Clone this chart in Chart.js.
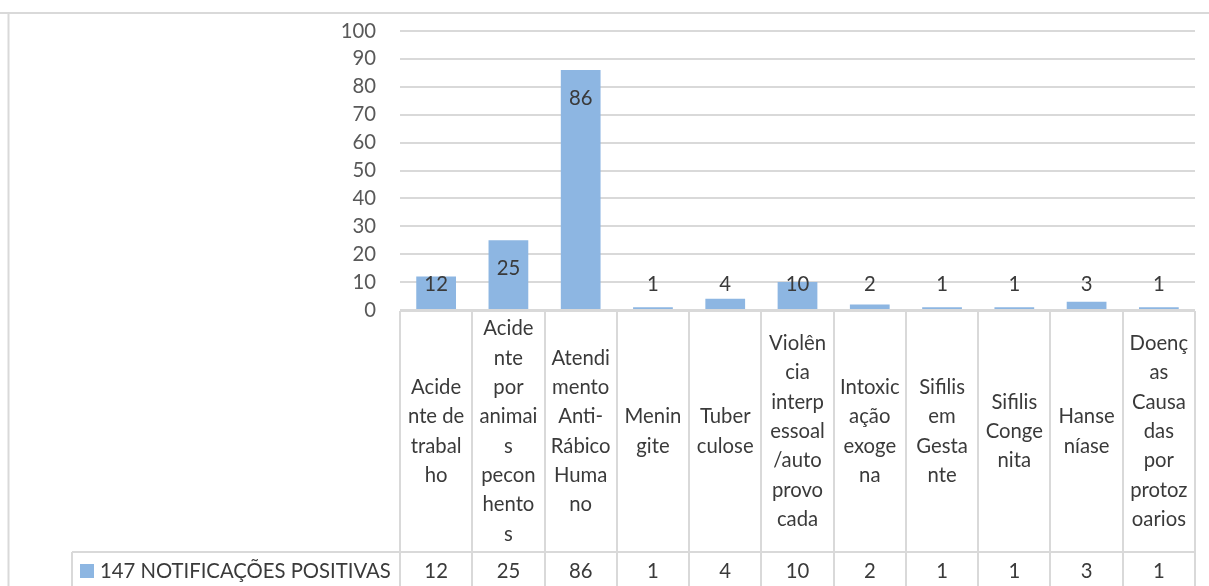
<!DOCTYPE html>
<html>
<head>
<meta charset="utf-8">
<script src="https://cdn.jsdelivr.net/npm/chart.js@4"></script>
<style>
  html, body { margin: 0; padding: 0; background: #fff; }
  #wrap { width: 1209px; height: 586px; }
</style>
</head>
<body>
<div id="wrap"><canvas id="chart" width="1209" height="586"></canvas></div>
<script>
// data
const categories = [
  'Acidente de trabalho', 'Acidente por animais peconhentos', 'Atendimento Anti-Rábico Humano',
  'Meningite', 'Tuberculose', 'Violência interpessoal/autoprovocada', 'Intoxicação exogena',
  'Sifilis em Gestante', 'Sifilis Congenita', 'Hanseníase', 'Doenças Causadas por protozoarios'
];
// header lines as wrapped in the data table
const categoryLines = [
  ['Acide', 'nte de', 'trabal', 'ho'],
  ['Acide', 'nte', 'por', 'animai', 's', 'pecon', 'hento', 's'],
  ['Atendi', 'mento', 'Anti-', 'Rábico', 'Huma', 'no'],
  ['Menin', 'gite'],
  ['Tuber', 'culose'],
  ['Violên', 'cia', 'interp', 'essoal', '/auto', 'provo', 'cada'],
  ['Intoxic', 'ação', 'exoge', 'na'],
  ['Sifilis', 'em', 'Gesta', 'nte'],
  ['Sifilis', 'Conge', 'nita'],
  ['Hanse', 'níase'],
  ['Doenç', 'as', 'Causa', 'das', 'por', 'protoz', 'oarios']
];
const seriesName = '147 NOTIFICAÇÕES POSITIVAS';
const values = [12, 25, 86, 1, 4, 10, 2, 1, 1, 3, 1];
const yMin = 0, yMax = 100, yStep = 10;

const FONT = 'Lato, "Open Sans", sans-serif';
const FONT_SIZE = 20.3;
const barColor = 'rgb(141, 182, 226)';
const lineColor = '#D9D9D9';
const textColor = '#3a3a3a';

const chartFrame = {
  id: 'chartFrame',
  beforeDraw(chart) {
    const ctx = chart.ctx;
    ctx.save();
    ctx.strokeStyle = lineColor;
    ctx.lineWidth = 2;
    ctx.beginPath();
    ctx.moveTo(0, 13); ctx.lineTo(chart.width, 13);
    ctx.moveTo(8.5, 13); ctx.lineTo(8.5, chart.height);
    ctx.stroke();
    ctx.restore();
  }
};

const barLabels = {
  id: 'barLabels',
  afterDatasetsDraw(chart) {
    const ctx = chart.ctx;
    const meta = chart.getDatasetMeta(0);
    ctx.save();
    ctx.font = FONT_SIZE + 'px ' + FONT;
    ctx.fillStyle = textColor;
    ctx.textAlign = 'center';
    ctx.textBaseline = 'middle';
    meta.data.forEach((bar, i) => {
      const y = Math.min(bar.y + 28, bar.base - 25);
      ctx.fillText(String(values[i]), bar.x, y);
    });
    ctx.restore();
  }
};

const dataTable = {
  id: 'dataTable',
  afterDraw(chart) {
    const ctx = chart.ctx;
    const x = chart.scales.x;
    const n = categories.length;
    const w = (x.right - x.left) / n;
    const top = chart.chartArea.bottom + 1;
    const mid = 552;
    const bottom = chart.height;
    const legendLeft = 72;
    ctx.save();
    ctx.strokeStyle = lineColor;
    ctx.lineWidth = 2;
    ctx.beginPath();
    ctx.moveTo(x.left, top); ctx.lineTo(x.right, top);
    ctx.moveTo(legendLeft, mid); ctx.lineTo(x.right, mid);
    ctx.moveTo(legendLeft, mid); ctx.lineTo(legendLeft, bottom);
    for (let i = 0; i <= n; i++) {
      const px = Math.round(x.left + i * w);
      ctx.moveTo(px, top); ctx.lineTo(px, bottom);
    }
    ctx.stroke();

    ctx.font = FONT_SIZE + 'px ' + FONT;
    ctx.fillStyle = textColor;
    ctx.textAlign = 'center';
    ctx.textBaseline = 'middle';
    const lh = 29.3;
    const cy = (top + mid) / 2;
    categoryLines.forEach((lines, i) => {
      const cx = x.getPixelForValue(i);
      const y0 = cy - (lines.length - 1) * lh / 2;
      lines.forEach((t, k) => ctx.fillText(t, cx, y0 + k * lh));
      ctx.fillText(String(values[i]), cx, 571);
    });

    // legend key in the table
    ctx.fillStyle = barColor;
    ctx.fillRect(80, 564, 14, 14);
    ctx.fillStyle = textColor;
    ctx.textAlign = 'left';
    ctx.fillText(seriesName, 100, 571);
    ctx.restore();
  }
};

new Chart(document.getElementById('chart'), {
  type: 'bar',
  data: {
    labels: categories,
    datasets: [{
      label: seriesName,
      data: values,
      backgroundColor: barColor,
      borderWidth: 0,
      barPercentage: 0.55,
      categoryPercentage: 1
    }]
  },
  options: {
    responsive: false,
    animation: false,
    layout: { padding: { left: 0, right: 14, top: 31, bottom: 276 } },
    plugins: {
      legend: { display: false },
      tooltip: { enabled: false }
    },
    scales: {
      x: {
        display: false
      },
      y: {
        min: yMin,
        max: yMax,
        ticks: {
          stepSize: yStep,
          padding: 24,
          color: '#595959',
          font: { family: FONT, size: FONT_SIZE }
        },
        grid: { color: lineColor, lineWidth: 2, drawTicks: false },
        border: { display: false },
        afterFit(scale) {
          scale.width = 400;
          scale.paddingTop = 0;
          scale.paddingBottom = 0;
        }
      }
    }
  },
  plugins: [chartFrame, barLabels, dataTable]
});
</script>
</body>
</html>
